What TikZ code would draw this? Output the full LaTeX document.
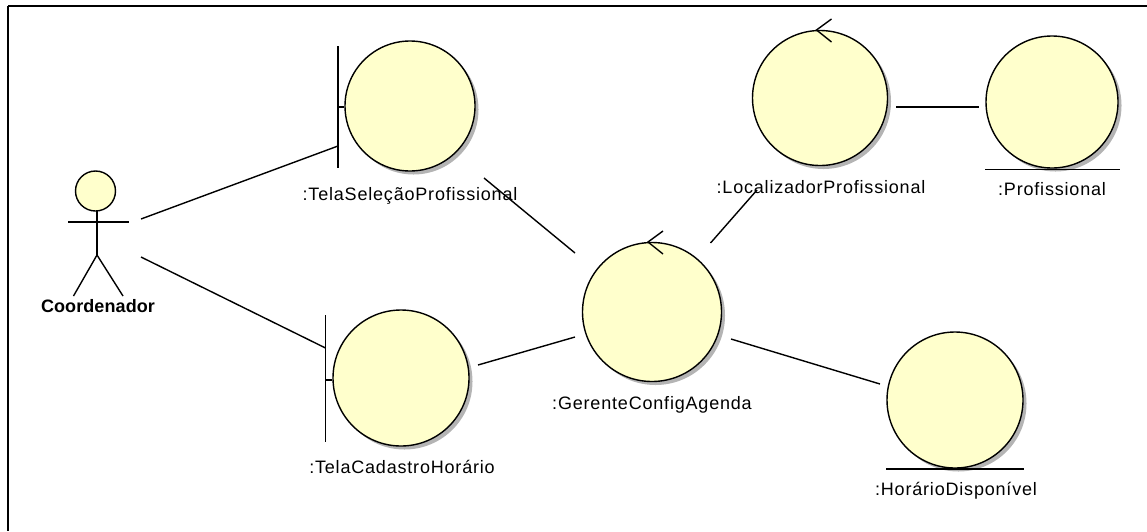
\documentclass[tikz,border=0pt]{standalone}
\usepackage{fontspec}
\setmainfont{Liberation Sans}
\definecolor{robfill}{HTML}{FFFFCC}
\definecolor{robshade}{HTML}{B4B4B4}
\tikzset{
  x=1pt,y=-1pt,
  obj/.style={circle,draw=black,fill=robfill,inner sep=0pt,line width=1.4pt},
  shade/.style={circle,fill=robshade,draw=none,inner sep=0pt},
  lbl/.style={font=\fontsize{18}{20}\selectfont\addfontfeature{LetterSpace=4.5},text=black,inner sep=0pt,anchor=base},
  lblb/.style={font=\fontsize{18}{20}\selectfont\bfseries\addfontfeature{LetterSpace=0.5},text=black,inner sep=0pt,anchor=base},
  conn/.style={draw=black,line width=1.4pt},
  glyph/.style={draw=black,line width=1.4pt},
}
\begin{document}
\begin{tikzpicture}
\useasboundingbox (0,0) rectangle (1147,531);
\coordinate (ftl) at (8,6); \coordinate (ftr) at (1147,6); \coordinate (fbl) at (8,531);
\draw[glyph] (ftl) -- (ftr);
\draw[draw=black,line width=1.8pt] (ftl) -- (fbl);
% shadows
\foreach \cx/\cy/\d in {410/106/130,820/98/135,1052/102/132,652/312/139,401/378/136,955/400/136}
  \node[shade,minimum size=\d pt] at (\cx+3.5,\cy+3.5) {};
% objects
\node[obj,minimum size=130pt] (sel) at (410,106) {};
\node[obj,minimum size=135pt] (loc) at (820,98) {};
\node[obj,minimum size=132pt] (prof) at (1052,102) {};
\node[obj,minimum size=139pt] (ger) at (652,312) {};
\node[obj,minimum size=136pt] (cad) at (401,378) {};
\node[obj,minimum size=136pt] (hor) at (955,400) {};
\node[obj,minimum size=40pt] (head) at (95.5,191) {};
% boundary bars
\coordinate (selbt) at (338,46); \coordinate (selbb) at (338,168); \coordinate (selbm) at (338,107);
\draw[glyph] (selbt) -- (selbb); \draw[glyph] (selbm) -- (sel.west |- selbm);
\coordinate (cadbt) at (325.5,315); \coordinate (cadbb) at (325.5,442); \coordinate (cadbm) at (325.5,380);
\draw[glyph] (cadbt) -- (cadbb); \draw[glyph] (cadbm) -- (cad.west |- cadbm);
% entity underlines
\coordinate (profa) at (985,169.5); \coordinate (profb) at (1120,169.5);
\draw[glyph] (profa) -- (profb);
\coordinate (hora) at (886,469); \coordinate (horb) at (1024,469);
\draw[glyph] (hora) -- (horb);
% control arrows
\coordinate (loca1) at (831.5,19); \coordinate (loct) at (816.5,30); \coordinate (loca2) at (831.5,42);
\draw[glyph] (loca1) -- (loct) -- (loca2);
\coordinate (gera1) at (663,231); \coordinate (gert) at (648,242); \coordinate (gera2) at (663,254);
\draw[glyph] (gera1) -- (gert) -- (gera2);
% actor
\coordinate (neck) at (97,211); \coordinate (hip) at (97,255);
\coordinate (arml) at (68,222); \coordinate (armr) at (129,222);
\coordinate (legl) at (73.5,296); \coordinate (legr) at (123,296);
\draw[glyph] (neck) -- (hip);
\draw[glyph] (arml) -- (armr);
\draw[glyph] (legl) -- (hip) -- (legr);
% labels
\node[lbl] (lsel) at (410,200) {:TelaSeleçãoProfissional};
\node[lbl] (lloc) at (821,193) {:LocalizadorProfissional};
\node[lbl] (lprof) at (1052,195) {:Profissional};
\node[lbl] (lger) at (652,409) {:GerenteConfigAgenda};
\node[lbl] (lcad) at (402,473) {:TelaCadastroHorário};
\node[lbl] (lhor) at (956,495) {:HorárioDisponível};
\node[lblb] (lact) at (98,312.5) {Coordenador};
% connectors
\coordinate (a1) at (141,219); \coordinate (a2) at (141,257);
\coordinate (s1) at (338,146); \coordinate (c1) at (325.5,348);
\coordinate (s2) at (484,178); \coordinate (g1) at (575,253);
\coordinate (c2) at (478,365); \coordinate (g2) at (575,337);
\coordinate (g3) at (710.5,243); \coordinate (l1) at (757,190);
\coordinate (g4) at (731,339); \coordinate (h1) at (880,384);
\coordinate (l2) at (896,107); \coordinate (p1) at (979,107);
\draw[conn] (a1) -- (s1);
\draw[conn] (a2) -- (c1);
\draw[conn] (s2) -- (g1);
\draw[conn] (c2) -- (g2);
\draw[conn] (g3) -- (l1);
\draw[conn] (g4) -- (h1);
\draw[conn] (l2) -- (p1);
\end{tikzpicture}
\end{document}
